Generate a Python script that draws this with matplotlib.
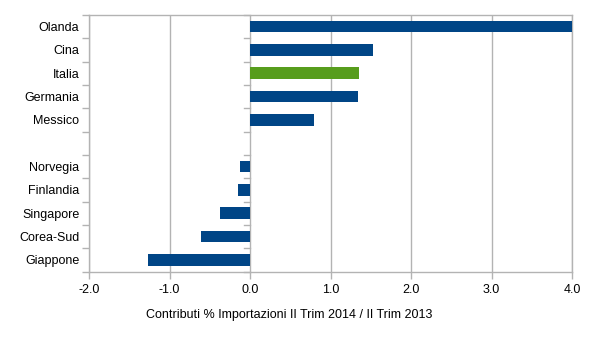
import matplotlib.pyplot as plt
import numpy as np

countries = ['Olanda', 'Cina', 'Italia', 'Germania', 'Messico', '',
             'Norvegia', 'Finlandia', 'Singapore', 'Corea-Sud', 'Giappone']
values = [4.0, 1.53, 1.35, 1.34, 0.80, np.nan,
          -0.12, -0.15, -0.37, -0.61, -1.27]
highlight = 'Italia'

BLUE = '#004586'
GREEN = '#579d1c'
GRID = '#b3b3b3'

plt.rcParams['font.family'] = ['Liberation Sans', 'DejaVu Sans']
plt.rcParams['font.size'] = 9

fig = plt.figure(figsize=(6.06, 3.41), dpi=100)
ax = fig.add_axes([89 / 606, 1 - 271.5 / 341, 483 / 606, 256.5 / 341])

pos = np.arange(len(countries))
colors = [GREEN if c == highlight else BLUE for c in countries]
ax.barh(pos, values, height=0.5, color=colors, zorder=3)

ax.set_xlim(-2, 4)
ax.set_ylim(len(countries) - 0.5, -0.5)
ax.set_xticks(np.arange(-2, 5, 1))
ax.set_xticklabels([f'{v:.1f}' for v in np.arange(-2, 5, 1)])
ax.set_yticks(pos)
ax.set_yticklabels(countries)
bounds = np.arange(len(countries) + 1) - 0.5
ax.set_yticks(bounds, minor=True)

ax.tick_params(axis='y', which='major', length=0, pad=7)
ax.tick_params(axis='y', which='minor', length=5, color=GRID, width=1)
ax.tick_params(axis='x', length=5, color=GRID, width=1, pad=4)

ax.grid(axis='x', color=GRID, linewidth=1, zorder=0)
for s in ax.spines.values():
    s.set_color(GRID)
    s.set_linewidth(1)

# small ticks on the zero axis
for b in bounds:
    ax.plot([-0.075, 0], [b, b], color=GRID, linewidth=1, zorder=2,
            clip_on=False)

fig.text(289 / 606, 1 - 315 / 341,
         'Contributi % Importazioni II Trim 2014 / II Trim 2013',
         ha='center', va='center', fontsize=9)

fig.savefig('out.png', dpi=100)
